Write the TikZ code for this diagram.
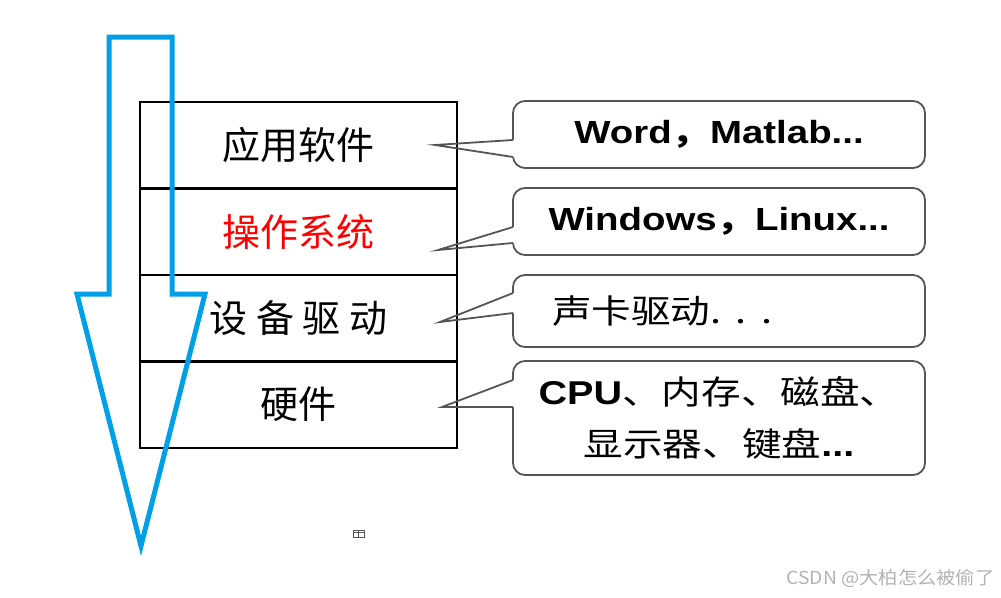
\documentclass[tikz,border=0pt]{standalone}
\usepackage{fontspec}
\usepackage{graphicx}
\setmainfont{Liberation Sans}
\newfontfamily\cjk{Noto Sans CJK SC}
\usetikzlibrary{positioning, calc}
\definecolor{flowblue}{RGB}{0,160,233}
\definecolor{calloutgray}{RGB}{85,85,85}
\newcommand{\wide}[1]{\scalebox{1.2}[1]{#1}}
\tikzstyle{layer} = [rectangle, minimum width=317pt, minimum height=86.5pt, inner sep=0pt, outer sep=0pt, draw=black, line width=2.5pt, font=\cjk\fontsize{38}{44}\selectfont]
\tikzstyle{callout} = [rectangle, rounded corners=12pt, minimum width=412pt, inner sep=0pt, outer sep=0pt, draw=calloutgray, fill=white, line width=1.8pt, text centered, font=\fontsize{32}{38}\selectfont]
\tikzstyle{pointer} = [draw=calloutgray, line width=1.8pt]
\tikzstyle{flow} = [draw=flowblue, line width=5pt, line join=miter]

\begin{document}
\begin{tikzpicture}[x=1pt, y=-1pt]
  \useasboundingbox (0,0) rectangle (1001,597);

  % callouts on the right
  \node (appex) [callout, minimum height=67pt] at (719,134.5) {\wide{\bfseries Word{\cjk ，}Matlab...}};
  \node (osex) [callout, minimum height=67pt] at (719,221.5) {\wide{\bfseries Windows{\cjk ，}Linux...}};
  \node (drvex) [callout, minimum height=72pt, text width=334pt, inner xsep=39pt, align=left, font=\cjk\fontsize{33}{40}\selectfont] at (719,311) {\wide{声卡驱动.\kern12pt.\kern12pt.}};
  \node (hwex) [callout, minimum height=114pt, align=center, font=\cjk\fontsize{33}{52}\selectfont] at (719,418) {\wide{{\rmfamily\bfseries CPU}、内存、磁盘、}\\\wide{显示器、键盘{\rmfamily\bfseries ...}}};

  \coordinate (appu) at ($(appex.west)+(0,5.5)$);
  \coordinate (appl) at ($(appex.west)+(0,22.5)$);
  \coordinate (appt) at ($(appex.west)+(-78,10.5)$);
  \coordinate (osu) at ($(osex.west)+(0,5.5)$);
  \coordinate (osl) at ($(osex.west)+(0,21.5)$);
  \coordinate (ost) at ($(osex.west)+(-75,28.5)$);
  \coordinate (drvu) at ($(drvex.west)+(0,-18)$);
  \coordinate (drvl) at ($(drvex.west)+(0,2)$);
  \coordinate (drvt) at ($(drvex.west)+(-73,11)$);
  \coordinate (hwu) at ($(hwex.west)+(0,-38)$);
  \coordinate (hwl) at ($(hwex.west)+(0,-11)$);
  \coordinate (hwt) at ($(hwex.west)+(-71,-11)$);

  \fill[white] (appu) -- (appt) -- (appl) -- ++(2.5,0) -- ($(appu)+(2.5,0)$) -- cycle;
  \fill[white] (osu) -- (ost) -- (osl) -- ++(2.5,0) -- ($(osu)+(2.5,0)$) -- cycle;
  \fill[white] (drvu) -- (drvt) -- (drvl) -- ++(2.5,0) -- ($(drvu)+(2.5,0)$) -- cycle;
  \fill[white] (hwu) -- (hwt) -- (hwl) -- ++(2.5,0) -- ($(hwu)+(2.5,0)$) -- cycle;

  % layer stack
  \node (app) [layer] at (298.5,145) {应用软件};
  \node (os) [layer, below=0pt of app] {\textcolor{red}{操作系统}};
  \node (drv) [layer, below=0pt of os] {设 备 驱 动};
  \node (hw) [layer, below=0pt of drv] {硬件};

  \draw [pointer] (appu) -- (appt) -- (appl);
  \draw [pointer] (osu) -- (ost) -- (osl);
  \draw [pointer] (drvu) -- (drvt) -- (drvl);
  \draw [pointer] (hwu) -- (hwt) -- (hwl);

  % big arrow
  \draw [flow] (109,37) -- (172,37) -- (172,294) -- (205,294) -- (141,546) -- (77,294) -- (109,294) -- cycle;

  % small icon and watermark
  \draw [black!65, line width=0.8pt] (353,530) rectangle (364,537) (353,532.5) -- (364,532.5) (358.5,530) -- (358.5,537);
  \node (mark) [anchor=east, text=black!30, font=\cjk\fontsize{18}{20}\selectfont] at (998,578) {\scalebox{1.07}[1]{CSDN @大柏怎么被偷了}};

\end{tikzpicture}
\end{document}
